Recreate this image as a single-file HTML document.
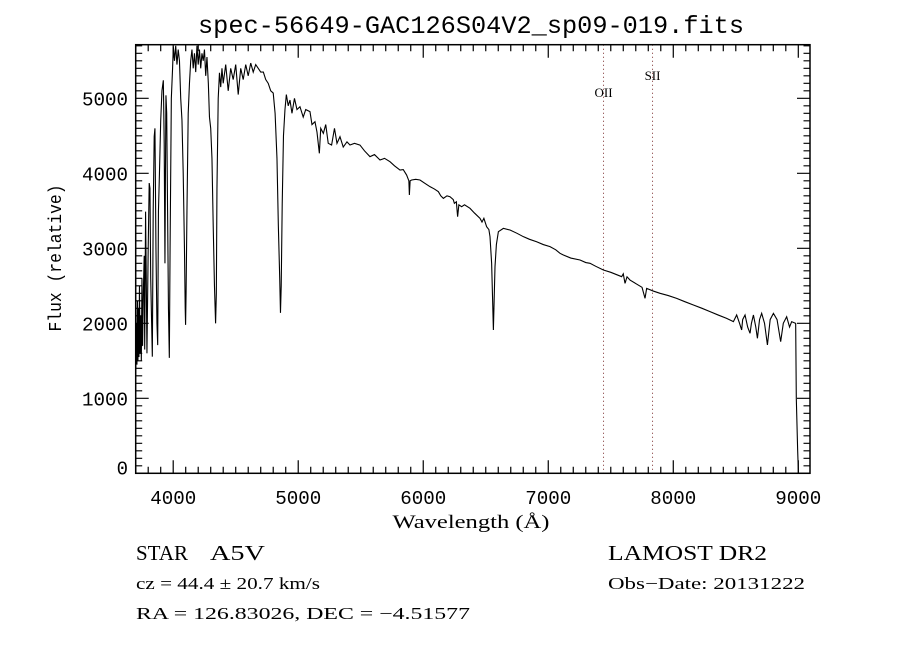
<!DOCTYPE html>
<html><head><meta charset="utf-8"><style>
html,body{margin:0;padding:0;background:#fff;}
svg{display:block;}
</style></head><body>
<svg id="chart" width="900" height="650" viewBox="0 0 900 650" xmlns="http://www.w3.org/2000/svg">
<rect x="0" y="0" width="900" height="650" fill="#fff"/>
<text x="471" y="33" text-anchor="middle" font-family="Liberation Mono, monospace" font-size="25" textLength="546" lengthAdjust="spacingAndGlyphs">spec-56649-GAC126S04V2_sp09-019.fits</text>
<g id="ticks"></g>
<g id="ylabels"></g>
<g id="xlabels"></g>
<g id="lines"></g>
<polyline id="spec" fill="none" stroke="#000" stroke-width="1.1" stroke-linejoin="miter"/>
<rect x="135.7" y="44.7" width="674.3" height="428.6" fill="none" stroke="#000" stroke-width="1.5"/>
<text transform="translate(61,258) rotate(-90)" text-anchor="middle" font-family="Liberation Mono, monospace" font-size="18" textLength="147" lengthAdjust="spacingAndGlyphs">Flux (relative)</text>
<text x="471" y="528" text-anchor="middle" font-family="Liberation Serif, serif" font-size="19" textLength="157" lengthAdjust="spacingAndGlyphs">Wavelength (Å)</text>
<text x="136" y="560" font-family="Liberation Serif, serif" font-size="21" textLength="52" lengthAdjust="spacingAndGlyphs">STAR</text>
<text x="210" y="560" font-family="Liberation Serif, serif" font-size="21" textLength="55" lengthAdjust="spacingAndGlyphs">A5V</text>
<text x="608" y="560" font-family="Liberation Serif, serif" font-size="21" textLength="159" lengthAdjust="spacingAndGlyphs">LAMOST DR2</text>
<text x="136" y="589" font-family="Liberation Serif, serif" font-size="17" textLength="184" lengthAdjust="spacingAndGlyphs">cz = 44.4 ± 20.7 km/s</text>
<text x="608" y="589" font-family="Liberation Serif, serif" font-size="17" textLength="197" lengthAdjust="spacingAndGlyphs">Obs−Date: 20131222</text>
<text x="136" y="619" font-family="Liberation Serif, serif" font-size="17" textLength="334" lengthAdjust="spacingAndGlyphs">RA = 126.83026, DEC =  −4.51577</text>
</svg>
<script>
const wave = [3700,3705,3710,3714,3718,3722,3726,3730,3735,3740,3745,3750,3755,3761,3768,3772,3779,3785,3790,3800,3808,3814,3820,3833,3840,3848,3854,3862,3870,3876,3882,3890,3900,3910,3921,3928,3934,3938,3942,3948,3955,3962,3969,3975,3985,3995,4001,4010,4020,4030,4040,4050,4060,4070,4080,4090,4096,4099,4103,4110,4120,4130,4140,4150,4160,4170,4180,4190,4200,4210,4220,4230,4240,4250,4260,4270,4281,4290,4300,4310,4320,4330,4339,4345,4350,4360,4370,4380,4390,4400,4420,4440,4460,4480,4500,4520,4540,4560,4580,4600,4620,4640,4660,4680,4700,4721,4740,4760,4780,4800,4815,4830,4841,4852,4858,4864,4872,4882,4894,4905,4920,4934,4950,4970,4990,5014,5040,5060,5094,5110,5134,5150,5169,5180,5201,5220,5240,5267,5290,5310,5334,5360,5390,5414,5450,5494,5530,5574,5610,5654,5690,5734,5770,5814,5840,5867,5885,5889,5895,5907,5940,5974,6010,6054,6090,6121,6140,6161,6190,6214,6240,6249,6265,6275,6285,6307,6330,6374,6410,6454,6470,6485,6507,6525,6534,6547,6555,6561,6567,6574,6585,6601,6641,6694,6750,6801,6850,6907,6960,7014,7060,7094,7121,7180,7254,7300,7334,7380,7441,7500,7560,7587,7600,7614,7630,7654,7700,7750,7774,7787,7840,7894,7960,8027,8090,8161,8230,8294,8360,8427,8481,8507,8530,8547,8555,8574,8595,8614,8625,8641,8660,8673,8690,8707,8730,8753,8775,8801,8830,8859,8880,8907,8930,8947,8979,8984,8995,9001];
const flux = [1400,2000,1450,2300,1500,2200,1550,2500,1600,2100,1500,2600,1700,2400,2900,1650,3490,2500,1600,3000,3870,3800,2600,1555,3500,4490,4600,3000,2000,1710,3500,4000,4700,5100,5240,4400,2800,4000,5040,4800,3500,2200,1540,3000,5000,5400,5690,5500,5700,5450,5650,5500,5000,4710,4000,3000,2200,1980,2400,3500,4800,5200,5500,5650,5400,5600,5350,5700,5450,5650,5400,5600,5500,5650,5300,5550,5200,4750,4600,4200,3300,2500,2000,2400,3800,5000,5340,5150,5400,5200,5450,5100,5400,5250,5450,5050,5400,5250,5450,5300,5470,5350,5450,5400,5350,5350,5250,5200,5100,5070,4800,4200,3300,2600,2140,2500,3600,4500,4850,5050,4900,4977,4800,5000,4850,4888,4750,4850,4822,4650,4688,4550,4266,4600,4533,4650,4400,4377,4600,4400,4488,4350,4420,4377,4400,4377,4300,4222,4250,4177,4200,4155,4100,4044,4050,3977,3900,3711,3900,3911,3920,3911,3870,3822,3790,3755,3700,3666,3700,3688,3650,3600,3620,3422,3580,3555,3580,3533,3470,3400,3350,3400,3288,3250,3155,2800,2300,1911,2300,2755,3050,3222,3266,3244,3200,3155,3120,3088,3050,3022,2980,2933,2911,2870,2844,2810,2800,2760,2711,2680,2640,2622,2660,2533,2620,2577,2530,2480,2333,2466,2430,2400,2370,2333,2290,2244,2200,2155,2110,2066,2022,2111,2000,1911,2050,2111,1950,1866,2000,2111,1950,1800,2050,2133,2000,1711,2050,2133,2050,1755,2000,2088,1950,2022,2000,1000,300,0];
const xTickLabels = ["4000","5000","6000","7000","8000","9000"];
const yTickLabels = ["0","1000","2000","3000","4000","5000"];
const lineNames = ["OII","SII"];
const lineWaves = [7442,7834];

const X0=135.7, X1=810, Y0=44.7, Y1=473.3;
const WMIN=3700, WMAX=9093.6, FMIN=0, FMAX=5715;
function xs(w){return X0+(w-WMIN)/(WMAX-WMIN)*(X1-X0);}
function ys(f){return Y1-(f-FMIN)/(FMAX-FMIN)*(Y1-Y0);}
const NS="http://www.w3.org/2000/svg";
function mk(tag,parent,attrs){const e=document.createElementNS(NS,tag);for(const k in attrs)e.setAttribute(k,attrs[k]);parent.appendChild(e);return e;}

const pts=[];
for(let i=0;i<wave.length;i++){pts.push(xs(wave[i]).toFixed(2)+","+ys(Math.max(FMIN,Math.min(FMAX,flux[i]))).toFixed(2));}
document.getElementById('spec').setAttribute('points',pts.join(' '));

const tg=document.getElementById('ticks');
let d="";
for(let w=3700;w<=9000;w+=100){
  const x=xs(w), L=(w%1000===0)?13:6.5;
  d+=`M${x} ${Y1}V${Y1-L}M${x} ${Y0}V${Y0+L}`;
}
for(let f=0;f<=5700;f+=100){
  const y=ys(f), L=(f%1000===0)?13:6.5;
  d+=`M${X0} ${y}H${X0+L}M${X1} ${y}H${X1-L}`;
}
const tp=mk('path',tg,{d:d,stroke:'#000','stroke-width':1.2,fill:'none'});



const xg=document.getElementById('xlabels');
xTickLabels.forEach(s=>{
  const t=mk('text',xg,{x:xs(+s),y:504,'text-anchor':'middle','font-family':'Liberation Mono, monospace','font-size':19,textLength:46,lengthAdjust:'spacingAndGlyphs'});
  t.textContent=s;
  
  
});
const yg=document.getElementById('ylabels');
yTickLabels.forEach(s=>{
  const yy = (+s===0) ? ys(+s)+1 : ys(+s)+7;
  const attrs={x:128,y:yy,'text-anchor':'end','font-family':'Liberation Mono, monospace','font-size':19};
  if(s.length>1){attrs.textLength=46;attrs.lengthAdjust='spacingAndGlyphs';}
  const t=mk('text',yg,attrs);
  t.textContent=s;
  
  
});

const lg=document.getElementById('lines');
lineNames.forEach((n,i)=>{
  const x=xs(lineWaves[i]);
  const l=mk('line',lg,{x1:x,x2:x,y1:Y0,y2:Y1,stroke:'#7a2a2a','stroke-width':1,'stroke-dasharray':'1,3'});
  
  
  const t=mk('text',lg,{x:x,y:(i===0?97:80),'text-anchor':'middle','font-family':'Liberation Serif, serif','font-size':13});
  t.textContent=n;
  
  
});
</script>
</body></html>
